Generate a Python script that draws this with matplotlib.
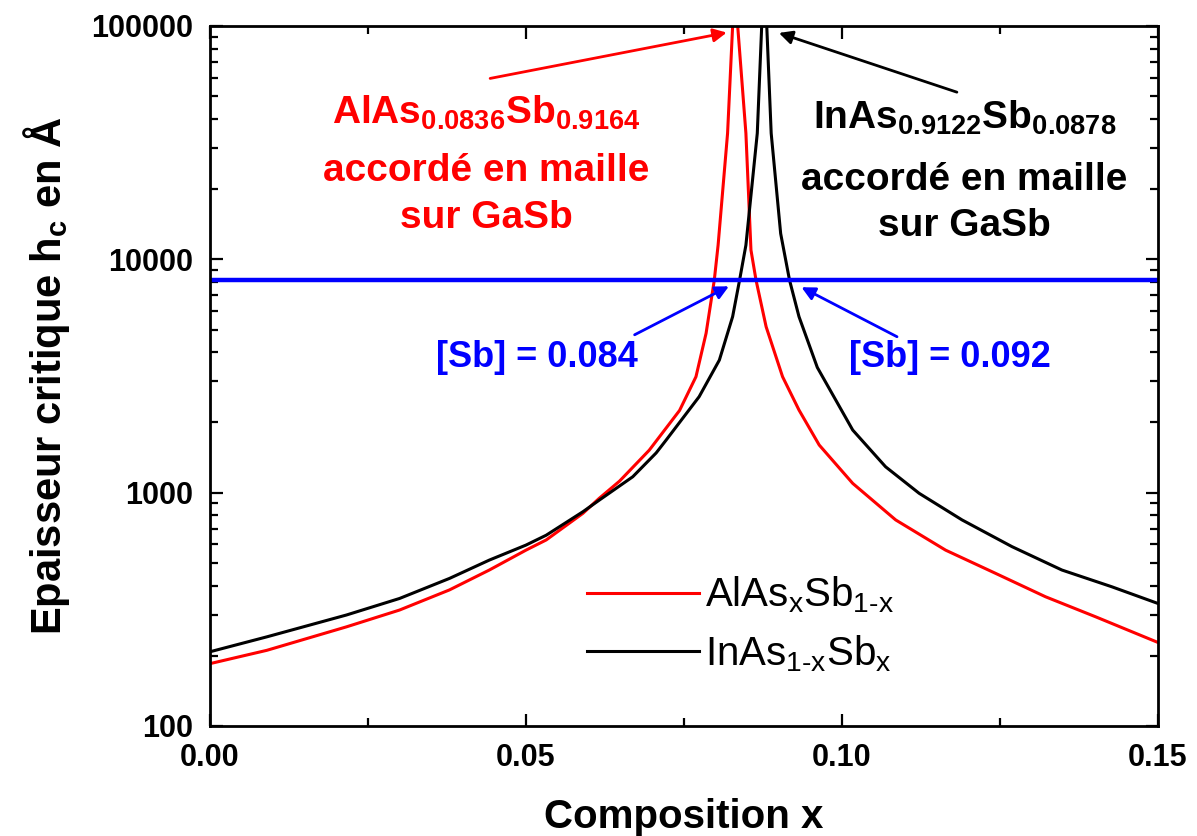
import matplotlib
matplotlib.use("Agg")
import matplotlib.pyplot as plt
from matplotlib.ticker import FixedLocator, LogLocator, NullFormatter, FormatStrFormatter

plt.rcParams['font.family'] = ['Liberation Sans', 'DejaVu Sans']
plt.rcParams['mathtext.fontset'] = 'custom'
plt.rcParams['mathtext.rm'] = 'Liberation Sans'
plt.rcParams['mathtext.it'] = 'Liberation Sans:italic'
plt.rcParams['mathtext.bf'] = 'Liberation Sans:bold'

# critical thickness (x = composition, h_c in Angstrom)
alas_x = [0.0, 0.009, 0.0216, 0.030, 0.0379, 0.0442, 0.050, 0.0532, 0.059, 0.0616,
          0.0648, 0.0695, 0.0743, 0.0769, 0.0785, 0.0798, 0.0804, 0.0819, 0.0827,
          0.0831, 0.0835, 0.0848, 0.0856, 0.0864, 0.0880, 0.0906, 0.0932, 0.0964,
          0.1017, 0.1085, 0.1164, 0.1243, 0.1322, 0.1401, 0.150]
alas_hc = [185, 211, 266, 314, 383, 466, 567, 627, 815, 946,
           1120, 1520, 2250, 3140, 4820, 8150, 11500, 34700, 100000,
           300000, 100000, 34700, 10960, 8150, 5140, 3140, 2260, 1600,
           1096, 764, 567, 451, 358, 294, 228]

inas_x = [0.0, 0.009, 0.0216, 0.030, 0.0379, 0.0442, 0.050, 0.0532, 0.059, 0.0616,
          0.0669, 0.0706, 0.0722, 0.0774, 0.0806, 0.0827, 0.0838, 0.0848, 0.0866, 0.0873,
          0.0877, 0.0881, 0.0888, 0.0903, 0.0917, 0.0932, 0.0961, 0.1017, 0.1069,
          0.1122, 0.119, 0.1269, 0.1348, 0.1427, 0.150]
inas_hc = [208, 241, 299, 352, 429, 514, 596, 657, 828, 929,
           1170, 1480, 1683, 2578, 3700, 5680, 8150, 11500, 34700, 100000,
           300000, 100000, 34700, 12900, 8150, 5680, 3440, 1855, 1291,
           994, 764, 587, 466, 395, 335]

hc_layer = 8150          # blue horizontal line
sb_low, sb_high = 0.084, 0.092

fig = plt.figure(figsize=(11.97, 8.36), dpi=100)
ax = fig.add_axes([0.1754, 0.1316, 0.792, 0.8373])

ax.plot(alas_x, alas_hc, color='red', lw=2.2, label=r'AlAs$_{\mathrm{x}}$Sb$_{\mathrm{1\text{-}x}}$')
ax.plot(inas_x, inas_hc, color='black', lw=2.2, label=r'InAs$_{\mathrm{1\text{-}x}}$Sb$_{\mathrm{x}}$')
ax.axhline(hc_layer, color='blue', lw=3.2)

ax.set_yscale('log')
ax.set_xlim(0, 0.15)
ax.set_ylim(100, 100000)

ax.xaxis.set_major_locator(FixedLocator([0, 0.05, 0.10, 0.15]))
ax.xaxis.set_minor_locator(FixedLocator([0.025, 0.075, 0.125]))
ax.xaxis.set_major_formatter(FormatStrFormatter('%.2f'))
ax.yaxis.set_major_locator(FixedLocator([100, 1000, 10000, 100000]))
ax.yaxis.set_minor_locator(LogLocator(base=10, subs=range(2, 10)))
ax.yaxis.set_minor_formatter(NullFormatter())
ax.yaxis.set_major_formatter(FormatStrFormatter('%d'))

ax.tick_params(which='both', direction='in', top=True, right=True, width=1.6)
ax.tick_params(which='major', length=9, labelsize=22, pad=12)
ax.tick_params(which='minor', length=5.5)
for lbl in ax.get_xticklabels() + ax.get_yticklabels():
    lbl.set_fontweight('bold')
for sp in ax.spines.values():
    sp.set_linewidth(2)

ax.set_xlabel('Composition x', fontsize=29, fontweight='bold', labelpad=18)
ax.set_ylabel(r'Epaisseur critique h$_{\mathbf{c}}$ en Å', fontsize=30, fontweight='bold', labelpad=14)

# annotations
ax.text(0.0437, 42400, r'AlAs$_{\mathbf{0.0836}}$Sb$_{\mathbf{0.9164}}$', color='red',
        fontsize=28, fontweight='bold', ha='center', va='center')
ax.text(0.0437, 24000, 'accordé en maille', color='red', fontsize=28, fontweight='bold',
        ha='center', va='center')
ax.text(0.0437, 15100, 'sur GaSb', color='red', fontsize=28, fontweight='bold',
        ha='center', va='center')
ax.annotate('', xy=(0.0822, 94200), xytext=(0.0439, 59300),
            arrowprops=dict(arrowstyle='-|>', color='red', lw=2, mutation_scale=20))

ax.text(0.1194, 40400, r'InAs$_{\mathbf{0.9122}}$Sb$_{\mathbf{0.0878}}$', color='black',
        fontsize=28, fontweight='bold', ha='center', va='center')
ax.text(0.1194, 21900, 'accordé en maille', color='black', fontsize=28, fontweight='bold',
        ha='center', va='center')
ax.text(0.1194, 13900, 'sur GaSb', color='black', fontsize=28, fontweight='bold',
        ha='center', va='center')
ax.annotate('', xy=(0.0896, 94200), xytext=(0.1186, 51600),
            arrowprops=dict(arrowstyle='-|>', color='black', lw=2, mutation_scale=20))

ax.text(0.0517, 3780, '[Sb] = %.3f' % sb_low, color='blue', fontsize=26, fontweight='bold',
        ha='center', va='center')
ax.annotate('', xy=(0.0825, 7760), xytext=(0.0668, 4690),
            arrowprops=dict(arrowstyle='-|>', color='blue', lw=2, mutation_scale=20))
ax.text(0.1171, 3800, '[Sb] = %.3f' % sb_high, color='blue', fontsize=26, fontweight='bold',
        ha='center', va='center')
ax.annotate('', xy=(0.0932, 7690), xytext=(0.1091, 4600),
            arrowprops=dict(arrowstyle='-|>', color='blue', lw=2, mutation_scale=20))

ax.legend(loc='upper left', bbox_to_anchor=(0.376, 0.245), frameon=False, fontsize=29,
          handlelength=2.8, handletextpad=0.15, labelspacing=0.45, borderpad=0)

fig.savefig('out.png', dpi=100)
